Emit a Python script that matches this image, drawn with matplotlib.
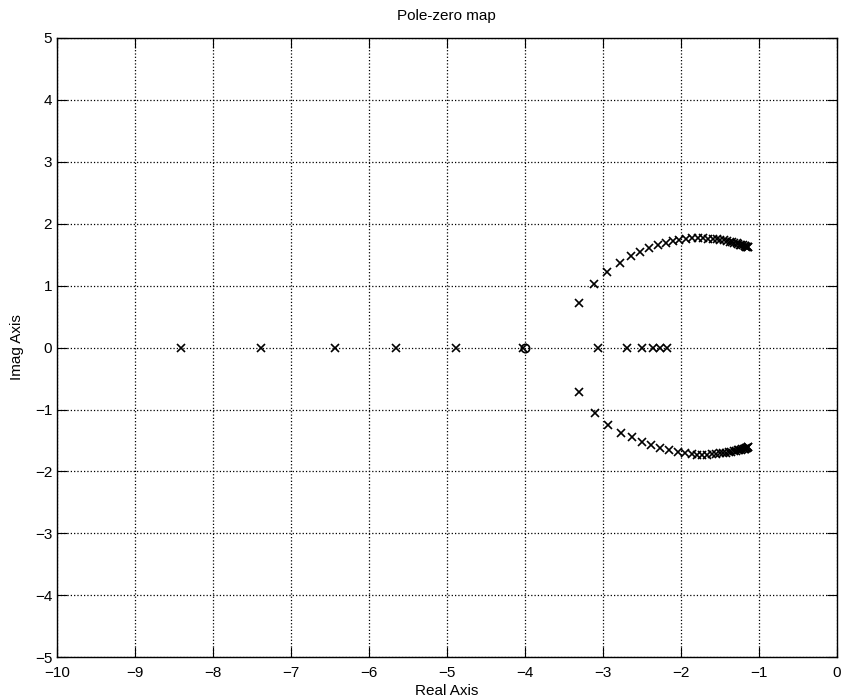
import matplotlib
matplotlib.use("Agg")
import matplotlib.pyplot as plt

plt.rcParams['font.family'] = ['Liberation Sans', 'DejaVu Sans']

# poles on the real axis
real_poles = [-8.41, -7.38, -6.44, -5.65, -4.88, -4.02,
              -3.06, -2.69, -2.50, -2.36, -2.26, -2.17]

# upper branch of complex poles
upper_re = [-3.31, -3.11, -2.94, -2.78, -2.64, -2.52, -2.40, -2.29, -2.19,
            -2.10, -2.02, -1.93, -1.85, -1.78, -1.71, -1.65, -1.59, -1.54,
            -1.49, -1.45, -1.41, -1.37, -1.34, -1.31, -1.28, -1.26, -1.24,
            -1.22, -1.20, -1.18, -1.17, -1.16, -1.15, -1.14, -1.13]
upper_im = [0.72, 1.03, 1.22, 1.36, 1.47, 1.54, 1.61, 1.65, 1.69,
            1.72, 1.74, 1.76, 1.77, 1.77, 1.77, 1.76, 1.76, 1.75,
            1.74, 1.73, 1.72, 1.71, 1.70, 1.69, 1.68, 1.67, 1.66,
            1.66, 1.65, 1.64, 1.64, 1.63, 1.63, 1.62, 1.62]

# lower branch of complex poles
lower_re = [-3.30, -3.10, -2.93, -2.77, -2.63, -2.50, -2.38, -2.27, -2.15,
            -2.04, -1.94, -1.86, -1.79, -1.72, -1.66, -1.60, -1.55, -1.50,
            -1.46, -1.42, -1.38, -1.35, -1.32, -1.29, -1.27, -1.25, -1.23,
            -1.21, -1.19, -1.18, -1.17, -1.16, -1.15, -1.14, -1.13]
lower_im = [-0.72, -1.05, -1.25, -1.38, -1.45, -1.53, -1.58, -1.62, -1.65,
            -1.68, -1.70, -1.72, -1.73, -1.73, -1.73, -1.72, -1.72, -1.71,
            -1.70, -1.70, -1.69, -1.68, -1.67, -1.67, -1.66, -1.65, -1.65,
            -1.64, -1.64, -1.63, -1.63, -1.62, -1.62, -1.61, -1.61]

zeros_re = [-4.0]
zeros_im = [0.0]

fig = plt.figure(figsize=(8.45, 7.0), dpi=100)
ax = fig.add_axes([0.0675, 0.061, 0.9225, 0.885])

ax.plot(real_poles, [0.0] * len(real_poles), 'x', color='black', markersize=6, mew=1.2)
ax.plot(upper_re, upper_im, 'x', color='black', markersize=6, mew=1.2)
ax.plot(lower_re, lower_im, 'x', color='black', markersize=6, mew=1.2)
ax.plot(zeros_re, zeros_im, 'o', color='black', markerfacecolor='none', markersize=6, mew=1.2)

ax.set_xlim(-10, 0)
ax.set_ylim(-5, 5)
ax.set_xticks(range(-10, 1))
ax.set_yticks(range(-5, 6))
ax.grid(True, linestyle=':', color='black', linewidth=0.9)
ax.tick_params(direction='in', top=True, right=True, length=7, labelsize=11)
ax.tick_params(axis='x', pad=6)
for s in ax.spines.values():
    s.set_linewidth(1.0)

ax.set_title('Pole-zero map', fontsize=11, pad=13)
ax.set_xlabel('Real Axis', fontsize=11, labelpad=3)
ax.set_ylabel('Imag Axis', fontsize=11, labelpad=8)

fig.savefig('out.png', dpi=100)
